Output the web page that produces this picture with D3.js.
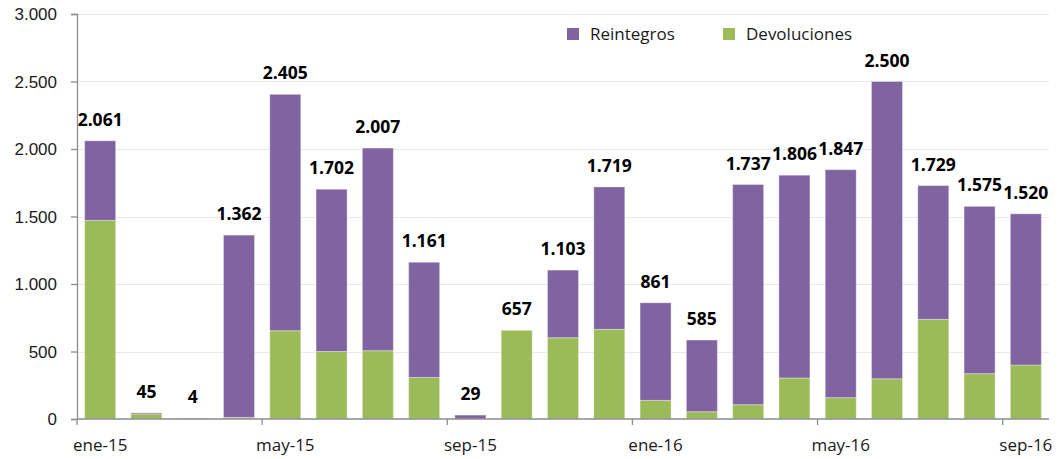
<!DOCTYPE html>
<html>
<head>
<meta charset="utf-8">
<script src="https://cdn.jsdelivr.net/npm/d3@7"></script>
<style>
    body { margin: 0; background: #fff; }
    svg { display: block; font-family: "Open Sans", sans-serif; }
    .axis text { font-size: 17px; fill: #1a1a1a; }
    .value { font-size: 17.5px; font-weight: bold; fill: #000; }
    .legend text { font-size: 17px; fill: #1a1a1a; }
</style>
</head>
<body>
<div id="chart"></div>
<script>
const months = ["ene-15", "feb-15", "mar-15", "abr-15", "may-15", "jun-15", "jul-15", "ago-15", "sep-15", "oct-15", "nov-15", "dic-15",
    "ene-16", "feb-16", "mar-16", "abr-16", "may-16", "jun-16", "jul-16", "ago-16", "sep-16"];
const devoluciones = [1471, 37, 0, 12, 654, 500, 506, 308, 0, 657, 602, 664, 138, 54, 106, 304, 158, 298, 738, 336, 400];
const reintegros = [590, 8, 4, 1350, 1751, 1202, 1501, 853, 29, 0, 501, 1055, 723, 531, 1631, 1502, 1689, 2202, 991, 1239, 1120];
const yTicks = [0, 500, 1000, 1500, 2000, 2500, 3000];
const seriesNames = ["Devoluciones", "Reintegros"];
const colors = {Devoluciones: "#9BBB59", Reintegros: "#8064A2"};

const width = 1059, height = 459;
const margin = {top: 14, right: 10, bottom: 40, left: 77};
const innerWidth = width - margin.left - margin.right;
const innerHeight = height - margin.top - margin.bottom;

const locale = d3.formatLocale({decimal: ",", thousands: ".", grouping: [3], currency: ["", ""]});
const fmt = locale.format(",d");

const data = months.map((m, i) => ({month: m, Devoluciones: devoluciones[i], Reintegros: reintegros[i]}));
const stacked = d3.stack().keys(seriesNames)(data);

const svg = d3.select("#chart").append("svg")
    .attr("width", width)
    .attr("height", height);

const chart = svg.append("g")
    .attr("transform", `translate(${margin.left}, ${margin.top})`);

const x = d3.scaleBand()
    .domain(months)
    .range([0, innerWidth])
    .paddingInner(0.33)
    .paddingOuter(0.165);

const y = d3.scaleLinear()
    .domain([0, 3000])
    .range([innerHeight, 0]);

// gridlines
chart.append("g")
    .selectAll("line")
    .data(yTicks.slice(1))
    .join("line")
    .attr("x1", 0)
    .attr("x2", innerWidth)
    .attr("y1", d => Math.round(y(d)) + 0.5)
    .attr("y2", d => Math.round(y(d)) + 0.5)
    .attr("stroke", "#e9e9e9")
    .attr("stroke-width", 1.2);

// bars
chart.append("g")
    .selectAll("g")
    .data(stacked)
    .join("g")
    .attr("fill", d => colors[d.key])
    .selectAll("rect")
    .data(d => d)
    .join("rect")
    .attr("x", d => x(d.data.month))
    .attr("width", x.bandwidth())
    .attr("y", d => y(d[1]))
    .attr("height", d => y(d[0]) - y(d[1]))
    .attr("stroke", "#fff")
    .attr("stroke-opacity", d => (d[1] - d[0]) > 0 ? 0.35 : 0)
    .attr("stroke-width", 1);

// totals
chart.append("g")
    .selectAll("text")
    .data(data)
    .join("text")
    .attr("class", "value")
    .attr("x", d => x(d.month) + x.bandwidth() / 2)
    .attr("y", d => y(d.Devoluciones + d.Reintegros) - 15)
    .attr("text-anchor", "middle")
    .text(d => fmt(d.Devoluciones + d.Reintegros));

// y axis
const yAxis = d3.axisLeft(y)
    .tickValues(yTicks)
    .tickSize(6)
    .tickPadding(14)
    .tickFormat(d => fmt(d));

const yg = chart.append("g")
    .attr("class", "axis")
    .call(yAxis);
yg.selectAll("path, line").attr("stroke", "#8c8c8c").attr("stroke-width", 1.3);
yg.selectAll("text").attr("dy", "0.34em");

// x axis: labels every 4 months, ticks on the left edge of those months
const step = x.step();
const shown = months.filter((m, i) => i % 4 === 0);

const xg = chart.append("g")
    .attr("class", "axis")
    .attr("transform", `translate(0, ${innerHeight})`);

xg.append("line")
    .attr("x1", 0)
    .attr("x2", innerWidth)
    .attr("stroke", "#8c8c8c")
    .attr("stroke-width", 1.3);

xg.selectAll("line.tick")
    .data(shown)
    .join("line")
    .attr("class", "tick")
    .attr("x1", d => months.indexOf(d) * step)
    .attr("x2", d => months.indexOf(d) * step)
    .attr("y1", 0)
    .attr("y2", 6)
    .attr("stroke", "#8c8c8c")
    .attr("stroke-width", 1.3);

xg.selectAll("text")
    .data(shown)
    .join("text")
    .attr("x", d => x(d) + x.bandwidth() / 2)
    .attr("y", 32)
    .attr("text-anchor", "middle")
    .text(d => d);

// legend
const legend = svg.append("g")
    .attr("class", "legend");

const legendItems = [
    {name: "Reintegros", x: 567},
    {name: "Devoluciones", x: 723}
];

legendItems.forEach(item => {
    legend.append("rect")
        .attr("x", item.x)
        .attr("y", 28)
        .attr("width", 12)
        .attr("height", 12)
        .attr("fill", colors[item.name]);
    legend.append("text")
        .attr("x", item.x + 23)
        .attr("y", 40)
        .text(item.name);
});
</script>
</body>
</html>
